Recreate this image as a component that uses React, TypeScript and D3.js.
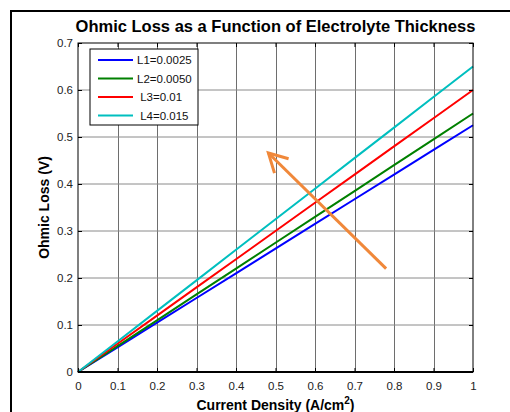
import React, { useEffect, useRef } from "react";
import * as d3 from "d3";

// current density (A/cm^2)
const currentDensity = [0, 0.1, 0.2, 0.3, 0.4, 0.5, 0.6, 0.7, 0.8, 0.9, 1.0];

// ohmic loss (V) per electrolyte thickness
const lossL1 = [0, 0.0525, 0.105, 0.1575, 0.21, 0.2625, 0.315, 0.3675, 0.42, 0.4725, 0.525];
const lossL2 = [0, 0.055, 0.11, 0.165, 0.22, 0.275, 0.33, 0.385, 0.44, 0.495, 0.55];
const lossL3 = [0, 0.06, 0.12, 0.18, 0.24, 0.3, 0.36, 0.42, 0.48, 0.54, 0.6];
const lossL4 = [0, 0.065, 0.13, 0.195, 0.26, 0.325, 0.39, 0.455, 0.52, 0.585, 0.65];

const seriesNames = ["L1=0.0025", "L2=0.0050", " L3=0.01", " L4=0.015"];
const seriesColors = ["#0000ff", "#008000", "#ff0000", "#00bfbf"];

const xTicks = [0, 0.1, 0.2, 0.3, 0.4, 0.5, 0.6, 0.7, 0.8, 0.9, 1];
const yTicks = [0, 0.1, 0.2, 0.3, 0.4, 0.5, 0.6, 0.7];

// arrow in data units: tail -> head
const arrowTail = [0.78, 0.22];
const arrowHead = [0.482, 0.466];

export default function App() {
  const ref = useRef<SVGSVGElement>(null);

  useEffect(() => {
    const svg = d3.select(ref.current);
    svg.selectAll("*").remove();

    const width = 510;
    const height = 412;
    const margin = { top: 43, right: 37, bottom: 40, left: 78 };
    const innerW = width - margin.left - margin.right;
    const innerH = height - margin.top - margin.bottom;
    const font = "'Liberation Sans', Arial, sans-serif";

    svg.append("rect").attr("width", width).attr("height", height).attr("fill", "#fff");

    // outer figure frame
    svg
      .append("rect")
      .attr("x", 11)
      .attr("y", 11)
      .attr("width", 520)
      .attr("height", 420)
      .attr("fill", "none")
      .attr("stroke", "#000")
      .attr("stroke-width", 2);

    const x = d3.scaleLinear().domain([0, 1]).range([0, innerW]);
    const y = d3.scaleLinear().domain([0, 0.7]).range([innerH, 0]);

    const g = svg.append("g").attr("transform", `translate(${margin.left},${margin.top})`);

    // grid
    g.append("g")
      .selectAll("line")
      .data(xTicks.slice(1, -1))
      .enter()
      .append("line")
      .attr("x1", (d) => Math.round(x(d)) + 0.5)
      .attr("x2", (d) => Math.round(x(d)) + 0.5)
      .attr("y1", 0)
      .attr("y2", innerH)
      .attr("stroke", "#6e6e6e")
      .attr("stroke-width", 1);

    g.append("g")
      .selectAll("line")
      .data(yTicks.slice(1, -1))
      .enter()
      .append("line")
      .attr("x1", 0)
      .attr("x2", innerW)
      .attr("y1", (d) => y(d))
      .attr("y2", (d) => y(d))
      .attr("stroke", "#8a8a8a")
      .attr("stroke-width", 1);

    // lines
    const allSeries = [lossL1, lossL2, lossL3, lossL4];
    const line = d3
      .line<number>()
      .x((d, i) => x(currentDensity[i]))
      .y((d) => y(d));

    allSeries.forEach((s, i) => {
      g.append("path")
        .datum(s)
        .attr("d", line)
        .attr("fill", "none")
        .attr("stroke", seriesColors[i])
        .attr("stroke-width", 2);
    });

    // box
    g.append("rect")
      .attr("width", innerW)
      .attr("height", innerH)
      .attr("fill", "none")
      .attr("stroke", "#000")
      .attr("stroke-width", 1);
    g.append("line")
      .attr("x1", 0)
      .attr("x2", innerW)
      .attr("y1", innerH)
      .attr("y2", innerH)
      .attr("stroke", "#000")
      .attr("stroke-width", 2);

    // axes (inward ticks)
    const xAxis = g
      .append("g")
      .attr("transform", `translate(0,${innerH})`)
      .call(
        d3
          .axisBottom(x)
          .tickValues(xTicks)
          .tickSize(-4)
          .tickPadding(10)
          .tickFormat((d) => d3.format("")(+d))
      );
    const yAxis = g.append("g").call(
      d3
        .axisLeft(y)
        .tickValues(yTicks)
        .tickSize(-4)
        .tickPadding(5)
        .tickFormat((d) => d3.format("")(+d))
    );
    const topTicks = g.append("g").call(d3.axisTop(x).tickValues(xTicks).tickSize(-4).tickFormat(() => ""));
    const rightTicks = g
      .append("g")
      .attr("transform", `translate(${innerW},0)`)
      .call(d3.axisRight(y).tickValues(yTicks).tickSize(-4).tickFormat(() => ""));

    [xAxis, yAxis, topTicks, rightTicks].forEach((a) => {
      a.select(".domain").remove();
      a.selectAll("line").attr("stroke", "#000");
      a.selectAll("text").attr("font-family", font).attr("font-size", 11.5).attr("fill", "#222");
    });

    // arrow
    const [tx, ty] = [x(arrowTail[0]), y(arrowTail[1])];
    const [hx, hy] = [x(arrowHead[0]), y(arrowHead[1])];
    const ang = Math.atan2(ty - hy, tx - hx);
    const wing = 21;
    const spread = 0.5;
    g.append("line")
      .attr("x1", tx)
      .attr("y1", ty)
      .attr("x2", hx)
      .attr("y2", hy)
      .attr("stroke", "#f0883a")
      .attr("stroke-width", 3);
    g.append("path")
      .attr(
        "d",
        `M${hx + wing * Math.cos(ang + spread)},${hy + wing * Math.sin(ang + spread)}L${hx},${hy}L${
          hx + wing * Math.cos(ang - spread)
        },${hy + wing * Math.sin(ang - spread)}`
      )
      .attr("fill", "none")
      .attr("stroke", "#f0883a")
      .attr("stroke-width", 3);

    // legend
    const leg = svg.append("g").attr("transform", "translate(90,49)");
    leg.append("rect")
      .attr("width", 108)
      .attr("height", 76)
      .attr("fill", "#fff")
      .attr("stroke", "#000")
      .attr("stroke-width", 1);
    seriesNames.forEach((name, i) => {
      const yy = 11 + i * 18.5;
      leg.append("line")
        .attr("x1", 8)
        .attr("x2", 43)
        .attr("y1", yy)
        .attr("y2", yy)
        .attr("stroke", seriesColors[i])
        .attr("stroke-width", 2);
      leg.append("text")
        .attr("x", 47)
        .attr("y", yy + 4)
        .attr("font-family", font)
        .attr("font-size", 11.5)
        .attr("fill", "#111")
        .style("white-space", "pre")
        .text(name);
    });

    // title & labels
    svg.append("text")
      .attr("x", margin.left + innerW / 2)
      .attr("y", 32)
      .attr("text-anchor", "middle")
      .attr("font-family", font)
      .attr("font-weight", "bold")
      .attr("font-size", 16.5)
      .text("Ohmic Loss as a Function of Electrolyte Thickness");

    const xl = svg.append("text")
      .attr("x", margin.left + innerW / 2)
      .attr("y", 410)
      .attr("text-anchor", "middle")
      .attr("font-family", font)
      .attr("font-weight", "bold")
      .attr("font-size", 14);
    xl.append("tspan").text("Current Density (A/cm");
    xl.append("tspan").attr("dy", -6).attr("font-size", 10).text("2");
    xl.append("tspan").attr("dy", 6).text(")");

    svg.append("text")
      .attr("transform", `translate(49,${margin.top + innerH / 2}) rotate(-90)`)
      .attr("text-anchor", "middle")
      .attr("font-family", font)
      .attr("font-weight", "bold")
      .attr("font-size", 14)
      .text("Ohmic Loss (V)");
  }, []);

  return (
    <svg
      ref={ref}
      width={510}
      height={412}
      style={{ position: "absolute", left: 0, top: 0, display: "block" }}
    />
  );
}
